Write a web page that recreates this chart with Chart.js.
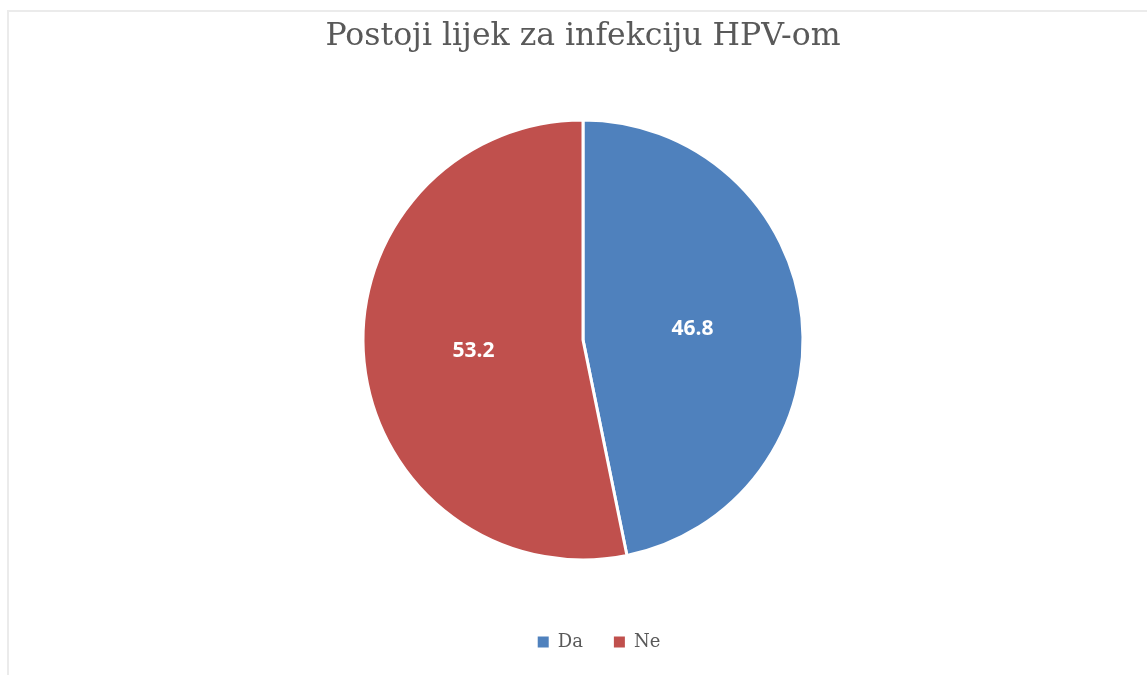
<!DOCTYPE html>
<html>
<head>
<meta charset="utf-8">
<script src="https://cdn.jsdelivr.net/npm/chart.js@4.4.0/dist/chart.umd.min.js"></script>
<style>
    html, body { margin: 0; padding: 0; background: #fff; overflow: hidden; }
    #wrap { position: relative; width: 1147px; height: 675px; }
    #frame {
        position: absolute; left: 7px; top: 10px; right: 0; bottom: 0;
        border-top: 2px solid #ebebeb; border-left: 2px solid #ebebeb;
        pointer-events: none;
    }
</style>
</head>
<body>
<div id="wrap">
    <canvas id="pieChart"></canvas>
    <div id="frame"></div>
</div>
<script>
// Chart data
const chartTitle = 'Postoji lijek za infekciju HPV-om';
const categories = ['Da', 'Ne'];
const values = [46.8, 53.2];
const sliceColors = ['#4F81BD', '#C0504D'];

// White value labels in the middle of each slice
const sliceLabels = {
    id: 'sliceLabels',
    afterDatasetsDraw(chart) {
        const ctx = chart.ctx;
        const meta = chart.getDatasetMeta(0);
        ctx.save();
        ctx.font = 'bold 21px "Open Sans"';
        ctx.fillStyle = '#ffffff';
        ctx.textAlign = 'center';
        ctx.textBaseline = 'middle';
        meta.data.forEach((arc, i) => {
            const p = arc.getCenterPoint();
            ctx.fillText(values[i].toFixed(1), p.x, p.y);
        });
        ctx.restore();
    }
};

// Excel puts the legend a little right of centre
const legendShift = {
    id: 'legendShift',
    afterLayout(chart) {
        chart.legend.left += 16;
        chart.legend.right += 16;
    }
};

new Chart(document.getElementById('pieChart'), {
    type: 'pie',
    data: {
        labels: categories,
        datasets: [{
            data: values,
            backgroundColor: sliceColors,
            borderColor: '#ffffff',
            borderWidth: 3
        }]
    },
    options: {
        responsive: true,
        maintainAspectRatio: false,
        animation: false,
        radius: 220,
        layout: {
            padding: { top: 0, left: 19, right: 0, bottom: 14 }
        },
        plugins: {
            title: {
                display: true,
                text: chartTitle,
                color: '#595959',
                font: { family: 'DejaVu Serif', size: 31.5, weight: 'normal' },
                padding: { top: 18, bottom: 22 }
            },
            legend: {
                position: 'bottom',
                labels: {
                    boxWidth: 11,
                    boxHeight: 11,
                    padding: 31,
                    color: '#595959',
                    font: { family: 'DejaVu Serif', size: 18 },
                    // no white outline on the legend squares
                    generateLabels(chart) {
                        const items = Chart.overrides.pie.plugins.legend.labels.generateLabels(chart);
                        return items.map(item => ({ ...item, lineWidth: 0 }));
                    }
                }
            },
            tooltip: { enabled: false }
        }
    },
    plugins: [sliceLabels, legendShift]
});
</script>
</body>
</html>
